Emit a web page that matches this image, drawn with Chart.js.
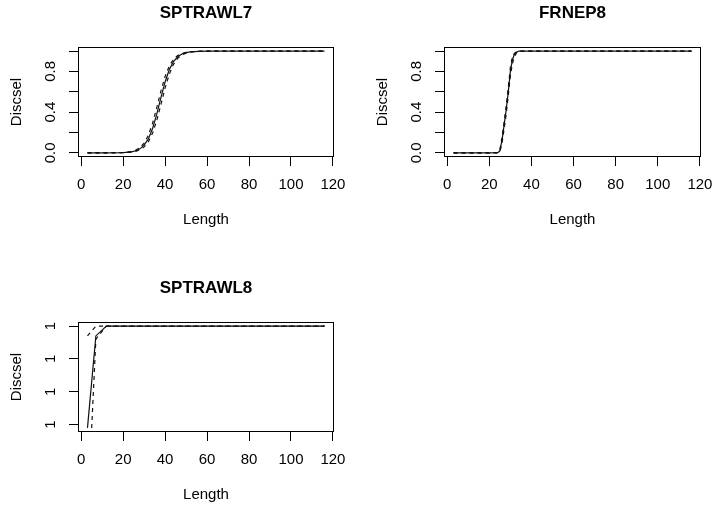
<!DOCTYPE html>
<html>
<head>
<meta charset="utf-8">
<script src="https://cdn.jsdelivr.net/npm/chart.js@4.4.0/dist/chart.umd.min.js"></script>
<style>
  html, body { margin: 0; padding: 0; background: #fff; width: 712px; height: 507px; overflow: hidden; }
  canvas { position: absolute; }
</style>
</head>
<body>
<canvas id="p1" style="left:0;top:0" width="356" height="253"></canvas>
<canvas id="p2" style="left:356px;top:0" width="356" height="253"></canvas>
<canvas id="p3" style="left:0;top:253px" width="356" height="254"></canvas>
<script>
// ─── Data ─────────────────────────────────────────────────────────────────────

const X_TICKS = [0, 20, 40, 60, 80, 100, 120];
const Y_TICKS = [0, 0.2, 0.4, 0.6, 0.8, 1];
const Y_LABELS = ['0.0', '', '0.4', '', '0.8', ''];

// SPTRAWL7
const LEN_T7 = [3, 10, 20, 24, 26, 28, 30, 32, 34, 36, 38, 40, 42, 44, 46, 48, 50, 52, 56, 60, 70, 116];
const SEL_T7 = [0, 0.0001, 0.003, 0.011, 0.021, 0.040, 0.076, 0.138, 0.237, 0.378, 0.542, 0.697, 0.818, 0.897, 0.944, 0.971, 0.985, 0.992, 0.998, 0.999, 1, 1];
const UP_T7  = [0, 0.0001, 0.004, 0.014, 0.027, 0.052, 0.097, 0.173, 0.289, 0.442, 0.607, 0.750, 0.854, 0.919, 0.957, 0.977, 0.988, 0.994, 0.998, 0.9995, 1, 1];
const LO_T7  = [0, 0.0001, 0.002, 0.008, 0.016, 0.031, 0.059, 0.109, 0.193, 0.317, 0.475, 0.638, 0.774, 0.870, 0.929, 0.962, 0.980, 0.990, 0.997, 0.999, 1, 1];

// FRNEP8
const LEN_N8 = [3, 10, 20, 24, 25, 26, 27, 28, 29, 30, 31, 32, 33, 34, 40, 116];
const SEL_N8 = [0, 0, 0, 0.002, 0.02, 0.12, 0.27, 0.42, 0.60, 0.80, 0.92, 0.97, 0.99, 1, 1, 1];
const UP_N8  = [0, 0, 0, 0.003, 0.03, 0.15, 0.30, 0.46, 0.64, 0.84, 0.95, 0.98, 0.995, 1, 1, 1];
const LO_N8  = [0, 0, 0, 0.001, 0.012, 0.09, 0.23, 0.38, 0.56, 0.76, 0.88, 0.95, 0.985, 0.998, 1, 1];

// SPTRAWL8 (all values within a hair of 1)
const LEN_T8 = [3, 5, 7, 12, 116];
const SEL_T8 = [0.99999969, 0.99999983, 0.99999997, 1, 1];
const UP_T8  = [0.99999997, 0.999999985, 0.9999999995, 1, 1];
const LO_T8  = [null, 0.99999969, 0.99999996, 1, 1];
const Y_TICKS_T8 = [0.9999997, 0.9999998, 0.9999999, 1];
const Y_LABELS_T8 = ['1', '1', '1', '1'];

// ─── Drawing ──────────────────────────────────────────────────────────────────

const FONT = '"Liberation Sans", Arial, Helvetica, sans-serif';

function _range(values) {
  const v = values.filter(d => d !== null);
  const lo = Math.min(...v), hi = Math.max(...v);
  const pad = (hi - lo) * 0.04;
  return [lo - pad, hi + pad];
}

function _points(xs, ys) {
  return xs.map((x, i) => ({ x, y: ys[i] }));
}

const rDecor = {
  id: 'rDecor',
  afterDraw(chart, args, opts) {
    const ctx = chart.ctx;
    const a = chart.chartArea;
    const cx = (a.left + a.right) / 2;
    ctx.save();
    ctx.strokeStyle = '#000';
    ctx.lineWidth = 1;
    ctx.strokeRect(a.left + 0.5, a.top + 0.5, a.right - a.left - 1, a.bottom - a.top - 1);

    ctx.fillStyle = '#000';
    ctx.textAlign = 'center';
    ctx.textBaseline = 'middle';
    ctx.font = 'bold 17px ' + FONT;
    ctx.fillText(opts.title, cx, a.top - 34);

    ctx.font = '15px ' + FONT;
    ctx.fillText('Length', cx, a.bottom + 63);

    ctx.save();
    ctx.translate(a.left - 61, (a.top + a.bottom) / 2);
    ctx.rotate(-Math.PI / 2);
    ctx.fillText('Discsel', 0, 0);
    ctx.restore();

    const ys = chart.scales.y;
    opts.yTicks.forEach((v, i) => {
      if (!opts.yLabels[i]) return;
      ctx.save();
      ctx.translate(a.left - 27.5, ys.getPixelForValue(v));
      ctx.rotate(-Math.PI / 2);
      ctx.fillText(opts.yLabels[i], 0, 0);
      ctx.restore();
    });
    ctx.restore();
  },
};

function renderPanel(canvasId, box, title, len, sel, up, lo, yTicks, yLabels) {
  const canvas = document.getElementById(canvasId);
  const W = canvas.width, H = canvas.height;
  const [xMin, xMax] = _range(len);
  const [yMin, yMax] = _range([...sel, ...up, ...lo]);

  const line = (data, dash) => ({
    data: _points(len, data),
    borderColor: '#111',
    borderWidth: 1.2,
    borderDash: dash,
    pointRadius: 0,
    fill: false,
    tension: 0,
  });

  new Chart(canvas, {
    type: 'line',
    data: {
      datasets: [line(sel, []), line(up, [4, 4]), line(lo, [4, 4])],
    },
    options: {
      responsive: false,
      animation: false,
      layout: { padding: { top: box.top, right: W - box.right, bottom: 0, left: 0 } },
      plugins: {
        legend: { display: false },
        tooltip: { enabled: false },
        rDecor: { title, yTicks, yLabels },
      },
      scales: {
        x: {
          type: 'linear',
          min: xMin,
          max: xMax,
          afterBuildTicks: s => { s.ticks = X_TICKS.map(v => ({ value: v })); },
          afterFit: s => { s.height = H - box.bottom; s.paddingLeft = 0; s.paddingRight = 0; },
          grid: { drawOnChartArea: false, tickLength: 9, color: '#000' },
          border: { display: false },
          ticks: {
            color: '#000', padding: 10, maxRotation: 0, autoSkip: false,
            font: { size: 15, family: FONT },
            callback: v => String(v),
          },
        },
        y: {
          type: 'linear',
          min: yMin,
          max: yMax,
          afterBuildTicks: s => { s.ticks = yTicks.map(v => ({ value: v })); },
          afterFit: s => { s.width = box.left; s.paddingTop = 0; s.paddingBottom = 0; },
          grid: { drawOnChartArea: false, tickLength: 9, color: '#000' },
          border: { display: false },
          ticks: { display: false },
        },
      },
    },
    plugins: [rDecor],
  });
}

renderPanel('p1', { left: 78, top: 47, right: 334, bottom: 157 }, 'SPTRAWL7',
  LEN_T7, SEL_T7, UP_T7, LO_T7, Y_TICKS, Y_LABELS);
renderPanel('p2', { left: 88, top: 47, right: 345, bottom: 157 }, 'FRNEP8',
  LEN_N8, SEL_N8, UP_N8, LO_N8, Y_TICKS, Y_LABELS);
renderPanel('p3', { left: 78, top: 69, right: 334, bottom: 179 }, 'SPTRAWL8',
  LEN_T8, SEL_T8, UP_T8, LO_T8, Y_TICKS_T8, Y_LABELS_T8);
</script>
</body>
</html>
